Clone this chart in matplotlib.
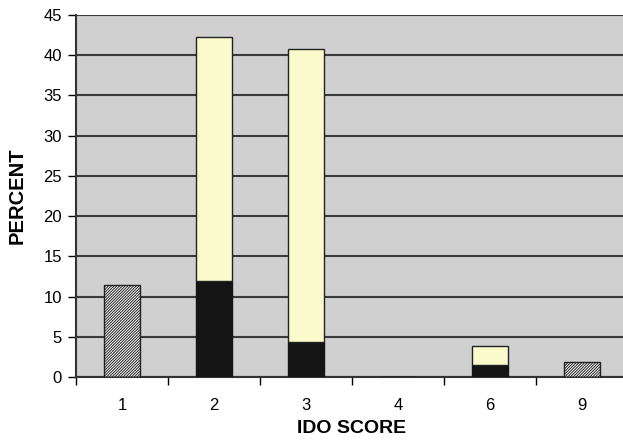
import numpy as np
import matplotlib.pyplot as plt

plt.rcParams['font.family'] = ['Liberation Sans', 'DejaVu Sans']
plt.rcParams['hatch.linewidth'] = 0.7

# IDO score categories and bar heights (percent)
scores = ['1', '2', '3', '4', '6', '9']
hatched = [11.4, 0, 0, 0, 0, 1.9]      # single hatched bars
lower = [0, 11.9, 4.3, 0, 1.5, 0]       # black lower segment
upper = [0, 30.4, 36.5, 0, 2.3, 0]      # cream upper segment

x = np.arange(len(scores))
w = 0.4

fig = plt.figure(figsize=(6.23, 4.42), dpi=100)
ax = fig.add_axes([0.122, 0.147, 0.886, 0.819])
ax.set_facecolor('#d0d0d0')

ax.bar(x, hatched, w, color='white', edgecolor='#222222', hatch='/' * 12, linewidth=1, zorder=3)
ax.bar(x, lower, w, color='#141414', edgecolor='#141414', linewidth=1, zorder=3)
ax.bar(x, upper, w, bottom=lower, color='#fafacd', edgecolor='#222222', linewidth=1, zorder=3)

ax.set_xlim(-0.5, len(scores) - 0.5)
ax.set_ylim(0, 45)
ax.set_yticks(np.arange(0, 46, 5))
ax.yaxis.grid(True, color='#3a3a3a', linewidth=1.5, zorder=1)
ax.set_axisbelow(True)

ax.set_xticks(x)
ax.set_xticklabels(scores)
ax.set_xticks(np.arange(-0.5, len(scores), 1), minor=True)
ax.tick_params(axis='x', which='major', length=0, pad=15, labelsize=12)
ax.tick_params(axis='x', which='minor', length=6, width=1, direction='out')
ax.tick_params(axis='y', length=6, width=1, labelsize=12, pad=4)

for s in ['top', 'right']:
    ax.spines[s].set_visible(False)
for s in ['left', 'bottom']:
    ax.spines[s].set_linewidth(1.5)
    ax.spines[s].set_color('#333333')

ax.set_xlabel('IDO SCORE', fontsize=14, fontweight='bold', labelpad=5)
ax.set_ylabel('PERCENT', fontsize=14.5, fontweight='bold', labelpad=12)

fig.savefig('out.png', dpi=100)
